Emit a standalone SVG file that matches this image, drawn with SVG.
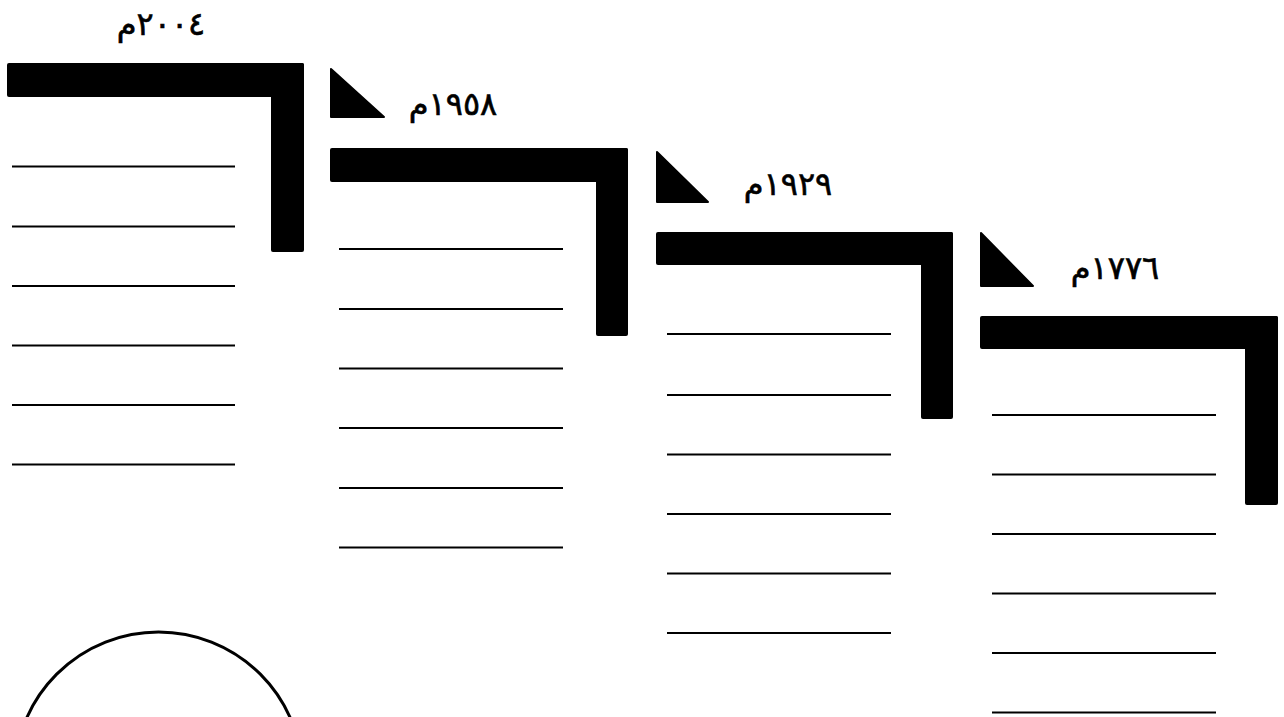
<svg xmlns="http://www.w3.org/2000/svg" width="1284" height="717" viewBox="0 0 1284 717">
<style>
.bar{fill:#000}
.ln{stroke:#000;stroke-width:2.2;fill:none}
.yr{font-family:"DejaVu Sans",sans-serif;font-size:32px;fill:#000;stroke:#000;stroke-width:0.6;text-anchor:middle}
.tri{fill:#000;stroke:#000;stroke-width:2;stroke-linejoin:round}
</style>
<rect width="1284" height="717" fill="#fff"/>
<g id="step-2004">
  <text class="yr" x="161" y="35">٢٠٠٤م</text>
  <rect class="bar" x="7" y="63" width="297" height="34" rx="2"/>
  <rect class="bar" x="271" y="63" width="33" height="189" rx="2"/>
  <g class="ln">
    <line x1="12" y1="166.5" x2="235" y2="166.5"/>
    <line x1="12" y1="226.5" x2="235" y2="226.5"/>
    <line x1="12" y1="286" x2="235" y2="286"/>
    <line x1="12" y1="345.5" x2="235" y2="345.5"/>
    <line x1="12" y1="405" x2="235" y2="405"/>
    <line x1="12" y1="464.5" x2="235" y2="464.5"/>
  </g>
</g>
<g id="step-1958">
  <polygon class="tri" points="331,69 331,117 384,117"/>
  <text class="yr" x="453" y="115">١٩٥٨م</text>
  <rect class="bar" x="330" y="148" width="298" height="34" rx="2"/>
  <rect class="bar" x="596" y="148" width="32" height="188" rx="2"/>
  <g class="ln">
    <line x1="339" y1="249" x2="563" y2="249"/>
    <line x1="339" y1="309" x2="563" y2="309"/>
    <line x1="339" y1="368.5" x2="563" y2="368.5"/>
    <line x1="339" y1="428" x2="563" y2="428"/>
    <line x1="339" y1="488" x2="563" y2="488"/>
    <line x1="339" y1="547.5" x2="563" y2="547.5"/>
  </g>
</g>
<g id="step-1929">
  <polygon class="tri" points="657,152 657,202 708,202"/>
  <text class="yr" x="788" y="195">١٩٢٩م</text>
  <rect class="bar" x="656" y="232" width="297" height="33" rx="2"/>
  <rect class="bar" x="921" y="232" width="32" height="187" rx="2"/>
  <g class="ln">
    <line x1="667" y1="334" x2="891" y2="334"/>
    <line x1="667" y1="395" x2="891" y2="395"/>
    <line x1="667" y1="454.5" x2="891" y2="454.5"/>
    <line x1="667" y1="514" x2="891" y2="514"/>
    <line x1="667" y1="573.5" x2="891" y2="573.5"/>
    <line x1="667" y1="633" x2="891" y2="633"/>
  </g>
</g>
<g id="step-1776">
  <polygon class="tri" points="981,233 981,286 1033,286"/>
  <text class="yr" x="1115" y="279">١٧٧٦م</text>
  <rect class="bar" x="980" y="316" width="298" height="33" rx="2"/>
  <rect class="bar" x="1245" y="316" width="33" height="189" rx="2"/>
  <g class="ln">
    <line x1="992" y1="415" x2="1216" y2="415"/>
    <line x1="992" y1="474.5" x2="1216" y2="474.5"/>
    <line x1="992" y1="534" x2="1216" y2="534"/>
    <line x1="992" y1="593.5" x2="1216" y2="593.5"/>
    <line x1="992" y1="653" x2="1216" y2="653"/>
    <line x1="992" y1="712.5" x2="1216" y2="712.5"/>
  </g>
</g>
<g id="circle">
  <circle cx="158.5" cy="776" r="144" fill="none" stroke="#000" stroke-width="3"/>
</g>
<g id="connectors"></g>
</svg>
